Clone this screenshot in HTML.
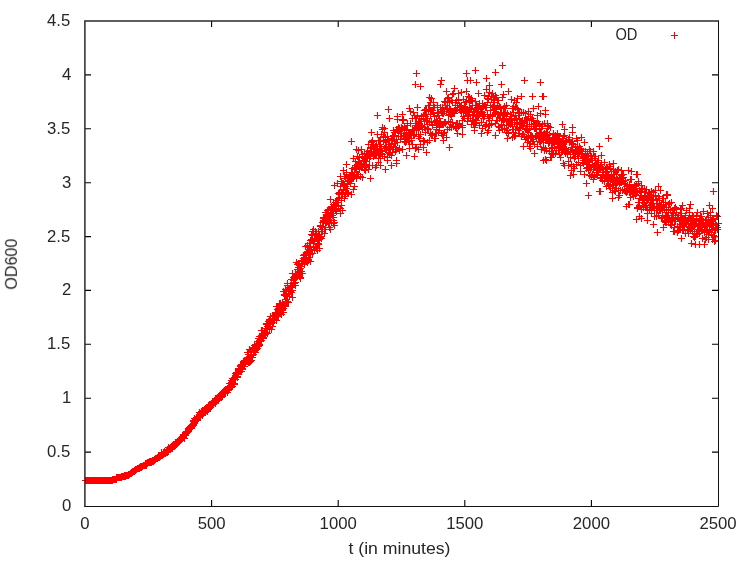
<!DOCTYPE html>
<html><head><meta charset="utf-8"><style>
html,body{margin:0;padding:0;background:#fff;width:750px;height:563px;overflow:hidden}
svg{display:block}
text{font-family:"Liberation Sans",sans-serif;font-size:16px;fill:#262626;will-change:transform}
</style></head><body>
<svg width="750" height="563" viewBox="0 0 750 563">
<rect width="750" height="563" fill="#fff"/>
<path d="M85.0 452.1h6M718.0 452.1h-6M85.0 398.2h6M718.0 398.2h-6M85.0 344.3h6M718.0 344.3h-6M85.0 290.4h6M718.0 290.4h-6M85.0 236.6h6M718.0 236.6h-6M85.0 182.7h6M718.0 182.7h-6M85.0 128.8h6M718.0 128.8h-6M85.0 74.9h6M718.0 74.9h-6M211.6 506.0v-6M211.6 21.0v6M338.2 506.0v-6M338.2 21.0v6M464.8 506.0v-6M464.8 21.0v6M591.4 506.0v-6M591.4 21.0v6" stroke="#000" stroke-width="1.1" fill="none"/>
<path d="M82 480.5h7M85.5 477v7M83 480.5h7M86.5 477v7M84 480.5h7M87.5 477v7M85 480.5h7M88.5 477v7M86 480.5h7M89.5 477v7M87 480.5h7M90.5 477v7M88 480.5h7M91.5 477v7M89 480.5h7M92.5 477v7M90 480.5h7M93.5 477v7M91 480.5h7M94.5 477v7M92 480.5h7M95.5 477v7M93 480.5h7M96.5 477v7M94 480.5h7M97.5 477v7M95 480.5h7M98.5 477v7M96 480.5h7M99.5 477v7M97 480.5h7M100.5 477v7M98 480.5h7M101.5 477v7M99 480.5h7M102.5 477v7M100 480.5h7M103.5 477v7M101 480.5h7M104.5 477v7M102 480.5h7M105.5 477v7M103 480.5h7M106.5 477v7M104 480.5h7M107.5 477v7M105 480.5h7M108.5 477v7M106 480.5h7M109.5 477v7M107 480.5h7M110.5 477v7M108 480.5h7M111.5 477v7M109 480.5h7M112.5 477v7M109 479.5h7M112.5 476v7M110 479.5h7M113.5 476v7M111 479.5h7M114.5 476v7M112 479.5h7M115.5 476v7M113 479.5h7M116.5 476v7M113 477.5h7M116.5 474v7M114 477.5h7M117.5 474v7M115 477.5h7M118.5 474v7M116 477.5h7M119.5 474v7M117 477.5h7M120.5 474v7M118 477.5h7M121.5 474v7M118 476.5h7M121.5 473v7M119 476.5h7M122.5 473v7M120 476.5h7M123.5 473v7M121 475.5h7M124.5 472v7M121 476.5h7M124.5 473v7M122 475.5h7M125.5 472v7M122 476.5h7M125.5 473v7M123 475.5h7M126.5 472v7M124 475.5h7M127.5 472v7M125 475.5h7M128.5 472v7M125 474.5h7M128.5 471v7M126 474.5h7M129.5 471v7M127 473.5h7M130.5 470v7M128 473.5h7M131.5 470v7M128 472.5h7M131.5 469v7M129 472.5h7M132.5 469v7M129 471.5h7M132.5 468v7M130 471.5h7M133.5 468v7M131 471.5h7M134.5 468v7M131 470.5h7M134.5 467v7M132 470.5h7M135.5 467v7M132 469.5h7M135.5 466v7M133 469.5h7M136.5 466v7M134 468.5h7M137.5 465v7M135 468.5h7M138.5 465v7M136 468.5h7M139.5 465v7M136 467.5h7M139.5 464v7M137 467.5h7M140.5 464v7M137 466.5h7M140.5 463v7M138 466.5h7M141.5 463v7M138 467.5h7M141.5 464v7M139 466.5h7M142.5 463v7M140 465.5h7M143.5 462v7M141 465.5h7M144.5 462v7M142 463.5h7M145.5 460v7M142 465.5h7M145.5 462v7M143 465.5h7M146.5 462v7M143 463.5h7M146.5 460v7M144 463.5h7M147.5 460v7M144 462.5h7M147.5 459v7M145 462.5h7M148.5 459v7M146 462.5h7M149.5 459v7M146 461.5h7M149.5 458v7M147 462.5h7M150.5 459v7M147 461.5h7M150.5 458v7M148 462.5h7M151.5 459v7M148 461.5h7M151.5 458v7M149 461.5h7M152.5 458v7M149 460.5h7M152.5 457v7M150 461.5h7M153.5 458v7M150 460.5h7M153.5 457v7M151 460.5h7M154.5 457v7M151 459.5h7M154.5 456v7M152 459.5h7M155.5 456v7M152 458.5h7M155.5 455v7M153 458.5h7M156.5 455v7M154 458.5h7M157.5 455v7M154 457.5h7M157.5 454v7M155 457.5h7M158.5 454v7M155 456.5h7M158.5 453v7M156 456.5h7M159.5 453v7M156 457.5h7M159.5 454v7M156 455.5h7M159.5 452v7M157 456.5h7M160.5 453v7M157 455.5h7M160.5 452v7M158 455.5h7M161.5 452v7M158 454.5h7M161.5 451v7M158 452.5h7M161.5 449v7M159 454.5h7M162.5 451v7M159 455.5h7M162.5 452v7M160 454.5h7M163.5 451v7M160 453.5h7M163.5 450v7M160 452.5h7M163.5 449v7M161 453.5h7M164.5 450v7M161 451.5h7M164.5 448v7M162 453.5h7M165.5 450v7M162 452.5h7M165.5 449v7M163 451.5h7M166.5 448v7M163 452.5h7M166.5 449v7M164 449.5h7M167.5 446v7M164 452.5h7M167.5 449v7M164 451.5h7M167.5 448v7M165 451.5h7M168.5 448v7M165 449.5h7M168.5 446v7M165 447.5h7M168.5 444v7M166 448.5h7M169.5 445v7M167 448.5h7M170.5 445v7M167 447.5h7M170.5 444v7M168 446.5h7M171.5 443v7M168 447.5h7M171.5 444v7M169 447.5h7M172.5 444v7M169 448.5h7M172.5 445v7M169 445.5h7M172.5 442v7M170 445.5h7M173.5 442v7M170 446.5h7M173.5 443v7M170 444.5h7M173.5 441v7M171 444.5h7M174.5 441v7M171 446.5h7M174.5 443v7M172 443.5h7M175.5 440v7M172 442.5h7M175.5 439v7M172 444.5h7M175.5 441v7M173 444.5h7M176.5 441v7M173 442.5h7M176.5 439v7M173 443.5h7M176.5 440v7M174 442.5h7M177.5 439v7M174 443.5h7M177.5 440v7M174 441.5h7M177.5 438v7M175 442.5h7M178.5 439v7M175 441.5h7M178.5 438v7M175 440.5h7M178.5 437v7M176 440.5h7M179.5 437v7M176 439.5h7M179.5 436v7M177 440.5h7M180.5 437v7M177 438.5h7M180.5 435v7M177 439.5h7M180.5 436v7M178 438.5h7M181.5 435v7M178 439.5h7M181.5 436v7M179 438.5h7M182.5 435v7M179 437.5h7M182.5 434v7M180 437.5h7M183.5 434v7M180 434.5h7M183.5 431v7M181 438.5h7M184.5 435v7M181 435.5h7M184.5 432v7M181 434.5h7M184.5 431v7M182 435.5h7M185.5 432v7M182 434.5h7M185.5 431v7M182 432.5h7M185.5 429v7M182 433.5h7M185.5 430v7M183 432.5h7M186.5 429v7M183 433.5h7M186.5 430v7M183 431.5h7M186.5 428v7M184 432.5h7M187.5 429v7M184 431.5h7M187.5 428v7M185 430.5h7M188.5 427v7M185 428.5h7M188.5 425v7M186 428.5h7M189.5 425v7M186 427.5h7M189.5 424v7M187 428.5h7M190.5 425v7M187 427.5h7M190.5 424v7M187 426.5h7M190.5 423v7M188 428.5h7M191.5 425v7M188 426.5h7M191.5 423v7M188 427.5h7M191.5 424v7M188 425.5h7M191.5 422v7M189 426.5h7M192.5 423v7M189 424.5h7M192.5 421v7M190 425.5h7M193.5 422v7M190 421.5h7M193.5 418v7M190 420.5h7M193.5 417v7M190 424.5h7M193.5 421v7M191 418.5h7M194.5 415v7M191 423.5h7M194.5 420v7M191 421.5h7M194.5 418v7M192 421.5h7M195.5 418v7M192 419.5h7M195.5 416v7M192 420.5h7M195.5 417v7M193 419.5h7M196.5 416v7M193 420.5h7M196.5 417v7M193 417.5h7M196.5 414v7M194 420.5h7M197.5 417v7M194 418.5h7M197.5 415v7M194 417.5h7M197.5 414v7M194 416.5h7M197.5 413v7M195 416.5h7M198.5 413v7M195 417.5h7M198.5 414v7M196 416.5h7M199.5 413v7M196 414.5h7M199.5 411v7M196 412.5h7M199.5 409v7M197 414.5h7M200.5 411v7M197 415.5h7M200.5 412v7M197 416.5h7M200.5 413v7M198 414.5h7M201.5 411v7M198 411.5h7M201.5 408v7M198 412.5h7M201.5 409v7M199 412.5h7M202.5 409v7M199 415.5h7M202.5 412v7M199 410.5h7M202.5 407v7M200 410.5h7M203.5 407v7M200 412.5h7M203.5 409v7M201 410.5h7M204.5 407v7M201 412.5h7M204.5 409v7M201 409.5h7M204.5 406v7M202 410.5h7M205.5 407v7M202 409.5h7M205.5 406v7M202 411.5h7M205.5 408v7M203 409.5h7M206.5 406v7M203 407.5h7M206.5 404v7M203 410.5h7M206.5 407v7M204 409.5h7M207.5 406v7M204 411.5h7M207.5 408v7M204 407.5h7M207.5 404v7M205 407.5h7M208.5 404v7M205 409.5h7M208.5 406v7M205 405.5h7M208.5 402v7M206 406.5h7M209.5 403v7M206 407.5h7M209.5 404v7M206 404.5h7M209.5 401v7M207 405.5h7M210.5 402v7M207 406.5h7M210.5 403v7M207 407.5h7M210.5 404v7M207 404.5h7M210.5 401v7M208 403.5h7M211.5 400v7M208 405.5h7M211.5 402v7M208 404.5h7M211.5 401v7M209 405.5h7M212.5 402v7M209 403.5h7M212.5 400v7M210 404.5h7M213.5 401v7M210 402.5h7M213.5 399v7M210 401.5h7M213.5 398v7M211 401.5h7M214.5 398v7M211 402.5h7M214.5 399v7M212 401.5h7M215.5 398v7M212 399.5h7M215.5 396v7M212 403.5h7M215.5 400v7M212 398.5h7M215.5 395v7M213 401.5h7M216.5 398v7M213 400.5h7M216.5 397v7M213 398.5h7M216.5 395v7M214 397.5h7M217.5 394v7M214 400.5h7M217.5 397v7M215 399.5h7M218.5 396v7M215 398.5h7M218.5 395v7M215 396.5h7M218.5 393v7M216 397.5h7M219.5 394v7M216 396.5h7M219.5 393v7M216 398.5h7M219.5 395v7M217 397.5h7M220.5 394v7M217 394.5h7M220.5 391v7M218 394.5h7M221.5 391v7M218 393.5h7M221.5 390v7M218 397.5h7M221.5 394v7M218 396.5h7M221.5 393v7M219 393.5h7M222.5 390v7M219 396.5h7M222.5 393v7M219 394.5h7M222.5 391v7M219 392.5h7M222.5 389v7M220 391.5h7M223.5 388v7M220 392.5h7M223.5 389v7M221 392.5h7M224.5 389v7M221 390.5h7M224.5 387v7M221 391.5h7M224.5 388v7M222 389.5h7M225.5 386v7M222 392.5h7M225.5 389v7M222 391.5h7M225.5 388v7M223 389.5h7M226.5 386v7M223 390.5h7M226.5 387v7M224 392.5h7M227.5 389v7M224 390.5h7M227.5 387v7M224 389.5h7M227.5 386v7M225 390.5h7M228.5 387v7M225 389.5h7M228.5 386v7M225 387.5h7M228.5 384v7M226 388.5h7M229.5 385v7M226 386.5h7M229.5 383v7M226 383.5h7M229.5 380v7M227 383.5h7M230.5 380v7M227 385.5h7M230.5 382v7M227 387.5h7M230.5 384v7M228 386.5h7M231.5 383v7M228 382.5h7M231.5 379v7M228 385.5h7M231.5 382v7M228 380.5h7M231.5 377v7M229 382.5h7M232.5 379v7M229 386.5h7M232.5 383v7M229 380.5h7M232.5 377v7M229 378.5h7M232.5 375v7M230 383.5h7M233.5 380v7M230 378.5h7M233.5 375v7M230 384.5h7M233.5 381v7M230 379.5h7M233.5 376v7M231 383.5h7M234.5 380v7M231 378.5h7M234.5 375v7M231 384.5h7M234.5 381v7M232 377.5h7M235.5 374v7M232 373.5h7M235.5 370v7M232 379.5h7M235.5 376v7M232 375.5h7M235.5 372v7M233 376.5h7M236.5 373v7M233 374.5h7M236.5 371v7M233 372.5h7M236.5 369v7M234 377.5h7M237.5 374v7M234 373.5h7M237.5 370v7M234 376.5h7M237.5 373v7M235 370.5h7M238.5 367v7M235 369.5h7M238.5 366v7M235 374.5h7M238.5 371v7M235 368.5h7M238.5 365v7M236 371.5h7M239.5 368v7M236 368.5h7M239.5 365v7M236 370.5h7M239.5 367v7M237 369.5h7M240.5 366v7M237 365.5h7M240.5 362v7M237 366.5h7M240.5 363v7M238 371.5h7M241.5 368v7M238 364.5h7M241.5 361v7M239 366.5h7M242.5 363v7M239 369.5h7M242.5 366v7M239 368.5h7M242.5 365v7M240 361.5h7M243.5 358v7M240 366.5h7M243.5 363v7M240 364.5h7M243.5 361v7M241 364.5h7M244.5 361v7M241 360.5h7M244.5 357v7M241 366.5h7M244.5 363v7M241 363.5h7M244.5 360v7M242 363.5h7M245.5 360v7M242 361.5h7M245.5 358v7M242 360.5h7M245.5 357v7M242 362.5h7M245.5 359v7M243 360.5h7M246.5 357v7M243 361.5h7M246.5 358v7M243 359.5h7M246.5 356v7M244 361.5h7M247.5 358v7M244 359.5h7M247.5 356v7M244 358.5h7M247.5 355v7M244 352.5h7M247.5 349v7M245 359.5h7M248.5 356v7M245 357.5h7M248.5 354v7M245 354.5h7M248.5 351v7M245 362.5h7M248.5 359v7M246 361.5h7M249.5 358v7M246 362.5h7M249.5 359v7M246 357.5h7M249.5 354v7M246 349.5h7M249.5 346v7M247 355.5h7M250.5 352v7M247 351.5h7M250.5 348v7M247 356.5h7M250.5 353v7M247 361.5h7M250.5 358v7M248 360.5h7M251.5 357v7M248 350.5h7M251.5 347v7M248 352.5h7M251.5 349v7M248 357.5h7M251.5 354v7M249 349.5h7M252.5 346v7M249 357.5h7M252.5 354v7M249 348.5h7M252.5 345v7M249 347.5h7M252.5 344v7M250 354.5h7M253.5 351v7M250 348.5h7M253.5 345v7M251 345.5h7M254.5 342v7M251 352.5h7M254.5 349v7M251 347.5h7M254.5 344v7M251 348.5h7M254.5 345v7M252 349.5h7M255.5 346v7M252 350.5h7M255.5 347v7M252 347.5h7M255.5 344v7M252 352.5h7M255.5 349v7M253 348.5h7M256.5 345v7M253 344.5h7M256.5 341v7M253 349.5h7M256.5 346v7M254 341.5h7M257.5 338v7M254 346.5h7M257.5 343v7M254 348.5h7M257.5 345v7M255 338.5h7M258.5 335v7M255 344.5h7M258.5 341v7M255 346.5h7M258.5 343v7M255 343.5h7M258.5 340v7M256 345.5h7M259.5 342v7M256 344.5h7M259.5 341v7M256 336.5h7M259.5 333v7M256 340.5h7M259.5 337v7M257 341.5h7M260.5 338v7M257 338.5h7M260.5 335v7M257 340.5h7M260.5 337v7M257 336.5h7M260.5 333v7M258 336.5h7M261.5 333v7M258 340.5h7M261.5 337v7M258 337.5h7M261.5 334v7M258 330.5h7M261.5 327v7M259 336.5h7M262.5 333v7M259 337.5h7M262.5 334v7M259 330.5h7M262.5 327v7M260 338.5h7M263.5 335v7M260 333.5h7M263.5 330v7M260 337.5h7M263.5 334v7M261 335.5h7M264.5 332v7M261 332.5h7M264.5 329v7M261 333.5h7M264.5 330v7M262 334.5h7M265.5 331v7M262 328.5h7M265.5 325v7M262 333.5h7M265.5 330v7M263 332.5h7M266.5 329v7M263 323.5h7M266.5 320v7M263 324.5h7M266.5 321v7M264 324.5h7M267.5 321v7M264 329.5h7M267.5 326v7M264 333.5h7M267.5 330v7M264 326.5h7M267.5 323v7M265 324.5h7M268.5 321v7M265 323.5h7M268.5 320v7M265 326.5h7M268.5 323v7M265 321.5h7M268.5 318v7M266 320.5h7M269.5 317v7M266 329.5h7M269.5 326v7M266 319.5h7M269.5 316v7M266 323.5h7M269.5 320v7M267 326.5h7M270.5 323v7M267 324.5h7M270.5 321v7M267 316.5h7M270.5 313v7M267 319.5h7M270.5 316v7M268 329.5h7M271.5 326v7M268 321.5h7M271.5 318v7M269 322.5h7M272.5 319v7M269 326.5h7M272.5 323v7M269 316.5h7M272.5 313v7M270 320.5h7M273.5 317v7M270 322.5h7M273.5 319v7M270 315.5h7M273.5 312v7M271 316.5h7M274.5 313v7M271 319.5h7M274.5 316v7M271 320.5h7M274.5 317v7M271 318.5h7M274.5 315v7M272 312.5h7M275.5 309v7M272 315.5h7M275.5 312v7M272 314.5h7M275.5 311v7M272 316.5h7M275.5 313v7M273 315.5h7M276.5 312v7M273 313.5h7M276.5 310v7M273 320.5h7M276.5 317v7M273 306.5h7M276.5 303v7M274 315.5h7M277.5 312v7M274 314.5h7M277.5 311v7M274 306.5h7M277.5 303v7M274 309.5h7M277.5 306v7M275 310.5h7M278.5 307v7M275 313.5h7M278.5 310v7M275 316.5h7M278.5 313v7M275 308.5h7M278.5 305v7M276 304.5h7M279.5 301v7M276 313.5h7M279.5 310v7M276 303.5h7M279.5 300v7M277 310.5h7M280.5 307v7M277 305.5h7M280.5 302v7M277 307.5h7M280.5 304v7M277 303.5h7M280.5 300v7M278 309.5h7M281.5 306v7M278 310.5h7M281.5 307v7M278 314.5h7M281.5 311v7M279 309.5h7M282.5 306v7M279 310.5h7M282.5 307v7M279 302.5h7M282.5 299v7M280 306.5h7M283.5 303v7M280 312.5h7M283.5 309v7M280 291.5h7M283.5 288v7M280 308.5h7M283.5 305v7M281 306.5h7M284.5 303v7M281 295.5h7M284.5 292v7M281 294.5h7M284.5 291v7M281 305.5h7M284.5 302v7M282 306.5h7M285.5 303v7M282 303.5h7M285.5 300v7M282 289.5h7M285.5 286v7M282 299.5h7M285.5 296v7M283 301.5h7M286.5 298v7M283 296.5h7M286.5 293v7M283 290.5h7M286.5 287v7M283 302.5h7M286.5 299v7M284 296.5h7M287.5 293v7M284 301.5h7M287.5 298v7M284 283.5h7M287.5 280v7M284 285.5h7M287.5 282v7M285 289.5h7M288.5 286v7M285 293.5h7M288.5 290v7M285 302.5h7M288.5 299v7M286 290.5h7M289.5 287v7M286 296.5h7M289.5 293v7M286 293.5h7M289.5 290v7M287 291.5h7M290.5 288v7M287 286.5h7M290.5 283v7M287 285.5h7M290.5 282v7M287 287.5h7M290.5 284v7M288 292.5h7M291.5 289v7M288 283.5h7M291.5 280v7M288 287.5h7M291.5 284v7M288 279.5h7M291.5 276v7M289 290.5h7M292.5 287v7M289 297.5h7M292.5 294v7M289 287.5h7M292.5 284v7M289 273.5h7M292.5 270v7M290 280.5h7M293.5 277v7M290 283.5h7M293.5 280v7M290 277.5h7M293.5 274v7M290 279.5h7M293.5 276v7M291 279.5h7M294.5 276v7M291 283.5h7M294.5 280v7M291 278.5h7M294.5 275v7M292 282.5h7M295.5 279v7M292 285.5h7M295.5 282v7M292 277.5h7M295.5 274v7M292 273.5h7M295.5 270v7M293 274.5h7M296.5 271v7M293 262.5h7M296.5 259v7M294 274.5h7M297.5 271v7M294 269.5h7M297.5 266v7M294 264.5h7M297.5 261v7M294 273.5h7M297.5 270v7M295 272.5h7M298.5 269v7M295 267.5h7M298.5 264v7M295 263.5h7M298.5 260v7M295 269.5h7M298.5 266v7M296 269.5h7M299.5 266v7M296 276.5h7M299.5 273v7M296 263.5h7M299.5 260v7M297 271.5h7M300.5 268v7M297 278.5h7M300.5 275v7M297 268.5h7M300.5 265v7M297 277.5h7M300.5 274v7M298 273.5h7M301.5 270v7M298 266.5h7M301.5 263v7M298 271.5h7M301.5 268v7M298 260.5h7M301.5 257v7M299 273.5h7M302.5 270v7M299 263.5h7M302.5 260v7M299 261.5h7M302.5 258v7M300 255.5h7M303.5 252v7M300 258.5h7M303.5 255v7M300 261.5h7M303.5 258v7M301 262.5h7M304.5 259v7M301 254.5h7M304.5 251v7M301 264.5h7M304.5 261v7M301 257.5h7M304.5 254v7M302 260.5h7M305.5 257v7M302 258.5h7M305.5 255v7M302 261.5h7M305.5 258v7M302 246.5h7M305.5 243v7M303 261.5h7M306.5 258v7M303 255.5h7M306.5 252v7M303 254.5h7M306.5 251v7M303 252.5h7M306.5 249v7M304 252.5h7M307.5 249v7M304 245.5h7M307.5 242v7M304 262.5h7M307.5 259v7M305 253.5h7M308.5 250v7M305 260.5h7M308.5 257v7M305 251.5h7M308.5 248v7M305 259.5h7M308.5 256v7M306 257.5h7M309.5 254v7M306 251.5h7M309.5 248v7M306 243.5h7M309.5 240v7M306 247.5h7M309.5 244v7M307 247.5h7M310.5 244v7M307 240.5h7M310.5 237v7M307 254.5h7M310.5 251v7M307 261.5h7M310.5 258v7M308 250.5h7M311.5 247v7M308 249.5h7M311.5 246v7M308 239.5h7M311.5 236v7M308 234.5h7M311.5 231v7M309 253.5h7M312.5 250v7M309 231.5h7M312.5 228v7M309 235.5h7M312.5 232v7M309 239.5h7M312.5 236v7M310 241.5h7M313.5 238v7M310 229.5h7M313.5 226v7M310 243.5h7M313.5 240v7M310 246.5h7M313.5 243v7M311 241.5h7M314.5 238v7M311 250.5h7M314.5 247v7M311 238.5h7M314.5 235v7M312 238.5h7M315.5 235v7M312 246.5h7M315.5 243v7M312 231.5h7M315.5 228v7M313 246.5h7M316.5 243v7M313 233.5h7M316.5 230v7M313 248.5h7M316.5 245v7M313 235.5h7M316.5 232v7M314 243.5h7M317.5 240v7M314 236.5h7M317.5 233v7M314 240.5h7M317.5 237v7M314 250.5h7M317.5 247v7M315 243.5h7M318.5 240v7M315 235.5h7M318.5 232v7M315 231.5h7M318.5 228v7M315 244.5h7M318.5 241v7M316 248.5h7M319.5 245v7M316 239.5h7M319.5 236v7M316 234.5h7M319.5 231v7M316 236.5h7M319.5 233v7M317 237.5h7M320.5 234v7M317 226.5h7M320.5 223v7M317 225.5h7M320.5 222v7M318 236.5h7M321.5 233v7M318 229.5h7M321.5 226v7M318 231.5h7M321.5 228v7M318 238.5h7M321.5 235v7M319 222.5h7M322.5 219v7M319 227.5h7M322.5 224v7M319 231.5h7M322.5 228v7M320 218.5h7M323.5 215v7M320 221.5h7M323.5 218v7M320 220.5h7M323.5 217v7M320 217.5h7M323.5 214v7M321 220.5h7M324.5 217v7M321 233.5h7M324.5 230v7M321 229.5h7M324.5 226v7M321 217.5h7M324.5 214v7M322 229.5h7M325.5 226v7M322 222.5h7M325.5 219v7M322 220.5h7M325.5 217v7M322 212.5h7M325.5 209v7M323 212.5h7M326.5 209v7M323 215.5h7M326.5 212v7M323 222.5h7M326.5 219v7M324 217.5h7M327.5 214v7M324 221.5h7M327.5 218v7M324 210.5h7M327.5 207v7M324 216.5h7M327.5 213v7M325 223.5h7M328.5 220v7M325 209.5h7M328.5 206v7M325 219.5h7M328.5 216v7M325 213.5h7M328.5 210v7M326 227.5h7M329.5 224v7M326 217.5h7M329.5 214v7M326 222.5h7M329.5 219v7M327 229.5h7M330.5 226v7M327 199.5h7M330.5 196v7M327 216.5h7M330.5 213v7M327 212.5h7M330.5 209v7M328 206.5h7M331.5 203v7M328 213.5h7M331.5 210v7M328 207.5h7M331.5 204v7M328 222.5h7M331.5 219v7M329 210.5h7M332.5 207v7M329 215.5h7M332.5 212v7M329 208.5h7M332.5 205v7M329 209.5h7M332.5 206v7M330 220.5h7M333.5 217v7M330 223.5h7M333.5 220v7M330 217.5h7M333.5 214v7M330 204.5h7M333.5 201v7M331 206.5h7M334.5 203v7M331 205.5h7M334.5 202v7M331 222.5h7M334.5 219v7M331 225.5h7M334.5 222v7M332 210.5h7M335.5 207v7M332 208.5h7M335.5 205v7M332 209.5h7M335.5 206v7M332 202.5h7M335.5 199v7M333 205.5h7M336.5 202v7M333 211.5h7M336.5 208v7M333 209.5h7M336.5 206v7M333 200.5h7M336.5 197v7M334 200.5h7M337.5 197v7M334 202.5h7M337.5 199v7M334 183.5h7M337.5 180v7M335 198.5h7M338.5 195v7M335 206.5h7M338.5 203v7M335 200.5h7M338.5 197v7M335 193.5h7M338.5 190v7M336 192.5h7M339.5 189v7M336 197.5h7M339.5 194v7M336 194.5h7M339.5 191v7M337 208.5h7M340.5 205v7M337 213.5h7M340.5 210v7M337 176.5h7M340.5 173v7M337 186.5h7M340.5 183v7M338 193.5h7M341.5 190v7M338 205.5h7M341.5 202v7M338 200.5h7M341.5 197v7M338 181.5h7M341.5 178v7M339 210.5h7M342.5 207v7M339 193.5h7M342.5 190v7M339 183.5h7M342.5 180v7M340 189.5h7M343.5 186v7M340 183.5h7M343.5 180v7M340 190.5h7M343.5 187v7M340 170.5h7M343.5 167v7M341 196.5h7M344.5 193v7M341 198.5h7M344.5 195v7M341 185.5h7M344.5 182v7M341 176.5h7M344.5 173v7M342 186.5h7M345.5 183v7M342 178.5h7M345.5 175v7M342 190.5h7M345.5 187v7M342 194.5h7M345.5 191v7M343 174.5h7M346.5 171v7M343 164.5h7M346.5 161v7M343 172.5h7M346.5 169v7M343 188.5h7M346.5 185v7M344 192.5h7M347.5 189v7M344 184.5h7M347.5 181v7M344 178.5h7M347.5 175v7M345 178.5h7M348.5 175v7M345 193.5h7M348.5 190v7M345 180.5h7M348.5 177v7M345 181.5h7M348.5 178v7M346 180.5h7M349.5 177v7M346 181.5h7M349.5 178v7M346 175.5h7M349.5 172v7M347 178.5h7M350.5 175v7M347 177.5h7M350.5 174v7M347 183.5h7M350.5 180v7M347 175.5h7M350.5 172v7M348 179.5h7M351.5 176v7M348 194.5h7M351.5 191v7M348 172.5h7M351.5 169v7M349 168.5h7M352.5 165v7M349 177.5h7M352.5 174v7M349 176.5h7M352.5 173v7M349 174.5h7M352.5 171v7M350 175.5h7M353.5 172v7M350 178.5h7M353.5 175v7M350 189.5h7M353.5 186v7M350 158.5h7M353.5 155v7M351 186.5h7M354.5 183v7M351 176.5h7M354.5 173v7M351 167.5h7M354.5 164v7M351 169.5h7M354.5 166v7M352 167.5h7M355.5 164v7M352 165.5h7M355.5 162v7M352 161.5h7M355.5 158v7M352 168.5h7M355.5 165v7M353 149.5h7M356.5 146v7M353 178.5h7M356.5 175v7M353 167.5h7M356.5 164v7M353 172.5h7M356.5 169v7M354 174.5h7M357.5 171v7M354 166.5h7M357.5 163v7M354 156.5h7M357.5 153v7M355 174.5h7M358.5 171v7M355 161.5h7M358.5 158v7M355 162.5h7M358.5 159v7M355 150.5h7M358.5 147v7M356 157.5h7M359.5 154v7M356 164.5h7M359.5 161v7M356 169.5h7M359.5 166v7M356 163.5h7M359.5 160v7M357 166.5h7M360.5 163v7M357 176.5h7M360.5 173v7M357 164.5h7M360.5 161v7M357 165.5h7M360.5 162v7M358 165.5h7M361.5 162v7M358 167.5h7M361.5 164v7M358 149.5h7M361.5 146v7M359 156.5h7M362.5 153v7M359 154.5h7M362.5 151v7M359 167.5h7M362.5 164v7M359 177.5h7M362.5 174v7M360 164.5h7M363.5 161v7M360 160.5h7M363.5 157v7M360 163.5h7M363.5 160v7M361 153.5h7M364.5 150v7M361 158.5h7M364.5 155v7M361 169.5h7M364.5 166v7M361 164.5h7M364.5 161v7M362 166.5h7M365.5 163v7M362 158.5h7M365.5 155v7M362 170.5h7M365.5 167v7M362 161.5h7M365.5 158v7M363 153.5h7M366.5 150v7M363 158.5h7M366.5 155v7M363 167.5h7M366.5 164v7M363 164.5h7M366.5 161v7M364 157.5h7M367.5 154v7M364 154.5h7M367.5 151v7M364 151.5h7M367.5 148v7M364 158.5h7M367.5 155v7M365 169.5h7M368.5 166v7M365 144.5h7M368.5 141v7M365 154.5h7M368.5 151v7M365 153.5h7M368.5 150v7M366 154.5h7M369.5 151v7M366 165.5h7M369.5 162v7M366 158.5h7M369.5 155v7M366 153.5h7M369.5 150v7M367 147.5h7M370.5 144v7M367 154.5h7M370.5 151v7M367 178.5h7M370.5 175v7M367 156.5h7M370.5 153v7M368 151.5h7M371.5 148v7M368 142.5h7M371.5 139v7M368 148.5h7M371.5 145v7M368 132.5h7M371.5 129v7M369 140.5h7M372.5 137v7M369 141.5h7M372.5 138v7M369 144.5h7M372.5 141v7M369 165.5h7M372.5 162v7M370 144.5h7M373.5 141v7M370 147.5h7M373.5 144v7M370 156.5h7M373.5 153v7M370 146.5h7M373.5 143v7M371 148.5h7M374.5 145v7M371 155.5h7M374.5 152v7M371 152.5h7M374.5 149v7M371 153.5h7M374.5 150v7M372 149.5h7M375.5 146v7M372 154.5h7M375.5 151v7M372 146.5h7M375.5 143v7M372 167.5h7M375.5 164v7M373 152.5h7M376.5 149v7M373 165.5h7M376.5 162v7M373 154.5h7M376.5 151v7M373 144.5h7M376.5 141v7M374 149.5h7M377.5 146v7M374 150.5h7M377.5 147v7M374 148.5h7M377.5 145v7M374 134.5h7M377.5 131v7M375 158.5h7M378.5 155v7M375 140.5h7M378.5 137v7M375 162.5h7M378.5 159v7M375 152.5h7M378.5 149v7M376 144.5h7M379.5 141v7M376 155.5h7M379.5 152v7M376 146.5h7M379.5 143v7M376 140.5h7M379.5 137v7M377 158.5h7M380.5 155v7M377 148.5h7M380.5 145v7M377 140.5h7M380.5 137v7M377 165.5h7M380.5 162v7M378 148.5h7M381.5 145v7M378 153.5h7M381.5 150v7M378 134.5h7M381.5 131v7M379 154.5h7M382.5 151v7M379 129.5h7M382.5 126v7M379 151.5h7M382.5 148v7M379 127.5h7M382.5 124v7M380 140.5h7M383.5 137v7M380 141.5h7M383.5 138v7M380 137.5h7M383.5 134v7M380 136.5h7M383.5 133v7M381 132.5h7M384.5 129v7M381 128.5h7M384.5 125v7M381 148.5h7M384.5 145v7M381 156.5h7M384.5 153v7M382 169.5h7M385.5 166v7M382 148.5h7M385.5 145v7M382 137.5h7M385.5 134v7M382 140.5h7M385.5 137v7M383 142.5h7M386.5 139v7M383 147.5h7M386.5 144v7M383 150.5h7M386.5 147v7M383 146.5h7M386.5 143v7M384 139.5h7M387.5 136v7M384 160.5h7M387.5 157v7M384 136.5h7M387.5 133v7M384 157.5h7M387.5 154v7M385 144.5h7M388.5 141v7M385 149.5h7M388.5 146v7M385 146.5h7M388.5 143v7M385 152.5h7M388.5 149v7M386 153.5h7M389.5 150v7M386 144.5h7M389.5 141v7M386 152.5h7M389.5 149v7M386 118.5h7M389.5 115v7M387 146.5h7M390.5 143v7M387 148.5h7M390.5 145v7M387 147.5h7M390.5 144v7M387 152.5h7M390.5 149v7M388 165.5h7M391.5 162v7M388 143.5h7M391.5 140v7M388 138.5h7M391.5 135v7M388 155.5h7M391.5 152v7M389 140.5h7M392.5 137v7M389 152.5h7M392.5 149v7M389 136.5h7M392.5 133v7M390 135.5h7M393.5 132v7M390 147.5h7M393.5 144v7M390 130.5h7M393.5 127v7M391 143.5h7M394.5 140v7M391 135.5h7M394.5 132v7M391 132.5h7M394.5 129v7M391 141.5h7M394.5 138v7M392 151.5h7M395.5 148v7M392 132.5h7M395.5 129v7M392 149.5h7M395.5 146v7M392 147.5h7M395.5 144v7M393 149.5h7M396.5 146v7M393 129.5h7M396.5 126v7M393 139.5h7M396.5 136v7M393 160.5h7M396.5 157v7M394 129.5h7M397.5 126v7M394 116.5h7M397.5 113v7M394 119.5h7M397.5 116v7M394 142.5h7M397.5 139v7M395 136.5h7M398.5 133v7M395 132.5h7M398.5 129v7M395 127.5h7M398.5 124v7M396 148.5h7M399.5 145v7M396 128.5h7M399.5 125v7M396 129.5h7M399.5 126v7M396 150.5h7M399.5 147v7M397 139.5h7M400.5 136v7M397 133.5h7M400.5 130v7M397 136.5h7M400.5 133v7M397 130.5h7M400.5 127v7M398 127.5h7M401.5 124v7M398 129.5h7M401.5 126v7M398 136.5h7M401.5 133v7M399 149.5h7M402.5 146v7M399 128.5h7M402.5 125v7M399 120.5h7M402.5 117v7M399 114.5h7M402.5 111v7M400 135.5h7M403.5 132v7M400 120.5h7M403.5 117v7M400 119.5h7M403.5 116v7M401 130.5h7M404.5 127v7M401 126.5h7M404.5 123v7M401 141.5h7M404.5 138v7M401 127.5h7M404.5 124v7M402 142.5h7M405.5 139v7M402 135.5h7M405.5 132v7M402 138.5h7M405.5 135v7M403 155.5h7M406.5 152v7M403 141.5h7M406.5 138v7M403 129.5h7M406.5 126v7M403 134.5h7M406.5 131v7M404 137.5h7M407.5 134v7M404 125.5h7M407.5 122v7M404 123.5h7M407.5 120v7M405 140.5h7M408.5 137v7M405 132.5h7M408.5 129v7M405 135.5h7M408.5 132v7M405 141.5h7M408.5 138v7M406 148.5h7M409.5 145v7M406 133.5h7M409.5 130v7M406 140.5h7M409.5 137v7M406 108.5h7M409.5 105v7M407 132.5h7M410.5 129v7M407 134.5h7M410.5 131v7M407 123.5h7M410.5 120v7M407 111.5h7M410.5 108v7M408 140.5h7M411.5 137v7M408 132.5h7M411.5 129v7M408 138.5h7M411.5 135v7M409 130.5h7M412.5 127v7M409 118.5h7M412.5 115v7M409 144.5h7M412.5 141v7M409 129.5h7M412.5 126v7M410 112.5h7M413.5 109v7M410 135.5h7M413.5 132v7M410 130.5h7M413.5 127v7M411 156.5h7M414.5 153v7M411 129.5h7M414.5 126v7M411 115.5h7M414.5 112v7M411 134.5h7M414.5 131v7M412 148.5h7M415.5 145v7M412 125.5h7M415.5 122v7M412 127.5h7M415.5 124v7M412 118.5h7M415.5 115v7M413 118.5h7M416.5 115v7M413 130.5h7M416.5 127v7M413 123.5h7M416.5 120v7M413 147.5h7M416.5 144v7M414 107.5h7M417.5 104v7M414 125.5h7M417.5 122v7M414 115.5h7M417.5 112v7M415 129.5h7M418.5 126v7M415 123.5h7M418.5 120v7M415 136.5h7M418.5 133v7M415 149.5h7M418.5 146v7M416 127.5h7M419.5 124v7M416 124.5h7M419.5 121v7M416 138.5h7M419.5 135v7M416 118.5h7M419.5 115v7M417 125.5h7M420.5 122v7M417 121.5h7M420.5 118v7M417 134.5h7M420.5 131v7M417 144.5h7M420.5 141v7M418 116.5h7M421.5 113v7M418 119.5h7M421.5 116v7M418 126.5h7M421.5 123v7M419 129.5h7M422.5 126v7M419 127.5h7M422.5 124v7M419 126.5h7M422.5 123v7M420 147.5h7M423.5 144v7M420 115.5h7M423.5 112v7M420 140.5h7M423.5 137v7M420 118.5h7M423.5 115v7M421 127.5h7M424.5 124v7M421 121.5h7M424.5 118v7M421 141.5h7M424.5 138v7M421 110.5h7M424.5 107v7M422 116.5h7M425.5 113v7M422 114.5h7M425.5 111v7M422 109.5h7M425.5 106v7M422 132.5h7M425.5 129v7M423 152.5h7M426.5 149v7M423 120.5h7M426.5 117v7M423 109.5h7M426.5 106v7M423 110.5h7M426.5 107v7M424 128.5h7M427.5 125v7M424 124.5h7M427.5 121v7M424 118.5h7M427.5 115v7M424 142.5h7M427.5 139v7M425 129.5h7M428.5 126v7M425 105.5h7M428.5 102v7M425 110.5h7M428.5 107v7M426 105.5h7M429.5 102v7M426 122.5h7M429.5 119v7M426 140.5h7M429.5 137v7M426 97.5h7M429.5 94v7M427 133.5h7M430.5 130v7M427 114.5h7M430.5 111v7M427 102.5h7M430.5 99v7M427 111.5h7M430.5 108v7M428 98.5h7M431.5 95v7M428 110.5h7M431.5 107v7M428 121.5h7M431.5 118v7M428 135.5h7M431.5 132v7M429 134.5h7M432.5 131v7M429 125.5h7M432.5 122v7M429 110.5h7M432.5 107v7M429 124.5h7M432.5 121v7M430 113.5h7M433.5 110v7M430 102.5h7M433.5 99v7M430 107.5h7M433.5 104v7M430 105.5h7M433.5 102v7M431 107.5h7M434.5 104v7M431 138.5h7M434.5 135v7M431 116.5h7M434.5 113v7M432 122.5h7M435.5 119v7M432 133.5h7M435.5 130v7M432 138.5h7M435.5 135v7M433 120.5h7M436.5 117v7M433 133.5h7M436.5 130v7M433 129.5h7M436.5 126v7M433 127.5h7M436.5 124v7M434 112.5h7M437.5 109v7M434 123.5h7M437.5 120v7M434 121.5h7M437.5 118v7M434 105.5h7M437.5 102v7M435 123.5h7M438.5 120v7M435 112.5h7M438.5 109v7M435 132.5h7M438.5 129v7M435 115.5h7M438.5 112v7M436 118.5h7M439.5 115v7M436 124.5h7M439.5 121v7M436 130.5h7M439.5 127v7M437 122.5h7M440.5 119v7M437 124.5h7M440.5 121v7M437 107.5h7M440.5 104v7M437 109.5h7M440.5 106v7M438 133.5h7M441.5 130v7M438 111.5h7M441.5 108v7M438 124.5h7M441.5 121v7M439 113.5h7M442.5 110v7M439 124.5h7M442.5 121v7M439 135.5h7M442.5 132v7M439 107.5h7M442.5 104v7M440 113.5h7M443.5 110v7M440 133.5h7M443.5 130v7M440 140.5h7M443.5 137v7M440 124.5h7M443.5 121v7M441 132.5h7M444.5 129v7M441 122.5h7M444.5 119v7M441 111.5h7M444.5 108v7M441 101.5h7M444.5 98v7M442 122.5h7M445.5 119v7M442 102.5h7M445.5 99v7M442 105.5h7M445.5 102v7M442 123.5h7M445.5 120v7M443 137.5h7M446.5 134v7M443 108.5h7M446.5 105v7M443 111.5h7M446.5 108v7M443 91.5h7M446.5 88v7M444 101.5h7M447.5 98v7M444 109.5h7M447.5 106v7M444 98.5h7M447.5 95v7M444 129.5h7M447.5 126v7M445 115.5h7M448.5 112v7M445 121.5h7M448.5 118v7M445 97.5h7M448.5 94v7M445 111.5h7M448.5 108v7M446 147.5h7M449.5 144v7M446 101.5h7M449.5 98v7M446 127.5h7M449.5 124v7M446 108.5h7M449.5 105v7M447 122.5h7M450.5 119v7M447 114.5h7M450.5 111v7M447 109.5h7M450.5 106v7M448 127.5h7M451.5 124v7M448 100.5h7M451.5 97v7M448 112.5h7M451.5 109v7M448 116.5h7M451.5 113v7M449 102.5h7M452.5 99v7M449 122.5h7M452.5 119v7M449 94.5h7M452.5 91v7M449 113.5h7M452.5 110v7M450 111.5h7M453.5 108v7M450 112.5h7M453.5 109v7M450 126.5h7M453.5 123v7M450 93.5h7M453.5 90v7M451 113.5h7M454.5 110v7M451 111.5h7M454.5 108v7M451 88.5h7M454.5 85v7M451 110.5h7M454.5 107v7M452 127.5h7M455.5 124v7M452 109.5h7M455.5 106v7M452 105.5h7M455.5 102v7M452 102.5h7M455.5 99v7M453 110.5h7M456.5 107v7M453 128.5h7M456.5 125v7M453 100.5h7M456.5 97v7M453 123.5h7M456.5 120v7M454 107.5h7M457.5 104v7M454 133.5h7M457.5 130v7M454 105.5h7M457.5 102v7M454 123.5h7M457.5 120v7M455 100.5h7M458.5 97v7M455 93.5h7M458.5 90v7M455 99.5h7M458.5 96v7M455 126.5h7M458.5 123v7M456 124.5h7M459.5 121v7M456 123.5h7M459.5 120v7M456 105.5h7M459.5 102v7M456 109.5h7M459.5 106v7M457 110.5h7M460.5 107v7M457 109.5h7M460.5 106v7M457 106.5h7M460.5 103v7M458 105.5h7M461.5 102v7M458 92.5h7M461.5 89v7M458 112.5h7M461.5 109v7M458 109.5h7M461.5 106v7M459 134.5h7M462.5 131v7M459 127.5h7M462.5 124v7M459 120.5h7M462.5 117v7M459 125.5h7M462.5 122v7M460 109.5h7M463.5 106v7M460 99.5h7M463.5 96v7M460 116.5h7M463.5 113v7M461 118.5h7M464.5 115v7M461 110.5h7M464.5 107v7M461 106.5h7M464.5 103v7M462 108.5h7M465.5 105v7M462 107.5h7M465.5 104v7M462 102.5h7M465.5 99v7M462 111.5h7M465.5 108v7M463 109.5h7M466.5 106v7M463 91.5h7M466.5 88v7M463 111.5h7M466.5 108v7M463 101.5h7M466.5 98v7M464 110.5h7M467.5 107v7M464 116.5h7M467.5 113v7M464 121.5h7M467.5 118v7M465 110.5h7M468.5 107v7M465 118.5h7M468.5 115v7M465 115.5h7M468.5 112v7M465 96.5h7M468.5 93v7M466 112.5h7M469.5 109v7M466 97.5h7M469.5 94v7M466 107.5h7M469.5 104v7M466 100.5h7M469.5 97v7M467 118.5h7M470.5 115v7M467 109.5h7M470.5 106v7M467 80.5h7M470.5 77v7M467 100.5h7M470.5 97v7M468 98.5h7M471.5 95v7M468 108.5h7M471.5 105v7M468 100.5h7M471.5 97v7M468 124.5h7M471.5 121v7M469 120.5h7M472.5 117v7M469 105.5h7M472.5 102v7M469 100.5h7M472.5 97v7M469 115.5h7M472.5 112v7M470 112.5h7M473.5 109v7M470 114.5h7M473.5 111v7M470 124.5h7M473.5 121v7M471 127.5h7M474.5 124v7M471 111.5h7M474.5 108v7M471 130.5h7M474.5 127v7M471 122.5h7M474.5 119v7M472 119.5h7M475.5 116v7M472 123.5h7M475.5 120v7M472 108.5h7M475.5 105v7M472 101.5h7M475.5 98v7M473 111.5h7M476.5 108v7M473 122.5h7M476.5 119v7M473 120.5h7M476.5 117v7M473 105.5h7M476.5 102v7M474 107.5h7M477.5 104v7M474 116.5h7M477.5 113v7M474 109.5h7M477.5 106v7M475 109.5h7M478.5 106v7M475 93.5h7M478.5 90v7M475 115.5h7M478.5 112v7M475 106.5h7M478.5 103v7M476 106.5h7M479.5 103v7M476 114.5h7M479.5 111v7M476 125.5h7M479.5 122v7M476 103.5h7M479.5 100v7M477 108.5h7M480.5 105v7M477 111.5h7M480.5 108v7M478 111.5h7M481.5 108v7M478 122.5h7M481.5 119v7M478 108.5h7M481.5 105v7M478 133.5h7M481.5 130v7M479 112.5h7M482.5 109v7M479 128.5h7M482.5 125v7M479 115.5h7M482.5 112v7M479 103.5h7M482.5 100v7M480 114.5h7M483.5 111v7M480 118.5h7M483.5 115v7M480 106.5h7M483.5 103v7M481 116.5h7M484.5 113v7M481 95.5h7M484.5 92v7M481 105.5h7M484.5 102v7M482 107.5h7M485.5 104v7M482 125.5h7M485.5 122v7M482 105.5h7M485.5 102v7M482 126.5h7M485.5 123v7M483 107.5h7M486.5 104v7M483 124.5h7M486.5 121v7M483 89.5h7M486.5 86v7M483 78.5h7M486.5 75v7M484 98.5h7M487.5 95v7M484 102.5h7M487.5 99v7M484 132.5h7M487.5 129v7M484 114.5h7M487.5 111v7M485 96.5h7M488.5 93v7M485 99.5h7M488.5 96v7M485 130.5h7M488.5 127v7M485 118.5h7M488.5 115v7M486 125.5h7M489.5 122v7M486 124.5h7M489.5 121v7M486 120.5h7M489.5 117v7M486 92.5h7M489.5 89v7M487 110.5h7M490.5 107v7M487 114.5h7M490.5 111v7M487 115.5h7M490.5 112v7M487 105.5h7M490.5 102v7M488 99.5h7M491.5 96v7M488 123.5h7M491.5 120v7M488 96.5h7M491.5 93v7M488 124.5h7M491.5 121v7M489 115.5h7M492.5 112v7M489 107.5h7M492.5 104v7M489 93.5h7M492.5 90v7M489 116.5h7M492.5 113v7M490 109.5h7M493.5 106v7M490 97.5h7M493.5 94v7M490 106.5h7M493.5 103v7M490 99.5h7M493.5 96v7M491 100.5h7M494.5 97v7M491 109.5h7M494.5 106v7M491 106.5h7M494.5 103v7M491 102.5h7M494.5 99v7M492 113.5h7M495.5 110v7M492 95.5h7M495.5 92v7M492 135.5h7M495.5 132v7M492 123.5h7M495.5 120v7M493 97.5h7M496.5 94v7M493 108.5h7M496.5 105v7M493 120.5h7M496.5 117v7M493 109.5h7M496.5 106v7M494 100.5h7M497.5 97v7M494 120.5h7M497.5 117v7M494 105.5h7M497.5 102v7M494 114.5h7M497.5 111v7M495 114.5h7M498.5 111v7M495 100.5h7M498.5 97v7M495 126.5h7M498.5 123v7M496 118.5h7M499.5 115v7M496 106.5h7M499.5 103v7M496 127.5h7M499.5 124v7M496 130.5h7M499.5 127v7M497 107.5h7M500.5 104v7M497 113.5h7M500.5 110v7M497 115.5h7M500.5 112v7M498 112.5h7M501.5 109v7M498 124.5h7M501.5 121v7M498 84.5h7M501.5 81v7M498 125.5h7M501.5 122v7M499 119.5h7M502.5 116v7M499 129.5h7M502.5 126v7M499 97.5h7M502.5 94v7M500 114.5h7M503.5 111v7M500 108.5h7M503.5 105v7M500 120.5h7M503.5 117v7M500 94.5h7M503.5 91v7M501 112.5h7M504.5 109v7M501 128.5h7M504.5 125v7M501 106.5h7M504.5 103v7M501 119.5h7M504.5 116v7M502 108.5h7M505.5 105v7M502 113.5h7M505.5 110v7M502 112.5h7M505.5 109v7M503 125.5h7M506.5 122v7M503 132.5h7M506.5 129v7M503 105.5h7M506.5 102v7M503 118.5h7M506.5 115v7M504 113.5h7M507.5 110v7M504 121.5h7M507.5 118v7M504 138.5h7M507.5 135v7M504 130.5h7M507.5 127v7M505 91.5h7M508.5 88v7M505 125.5h7M508.5 122v7M505 121.5h7M508.5 118v7M505 133.5h7M508.5 130v7M506 123.5h7M509.5 120v7M506 121.5h7M509.5 118v7M506 120.5h7M509.5 117v7M506 119.5h7M509.5 116v7M507 124.5h7M510.5 121v7M507 118.5h7M510.5 115v7M507 114.5h7M510.5 111v7M508 120.5h7M511.5 117v7M508 99.5h7M511.5 96v7M508 116.5h7M511.5 113v7M509 126.5h7M512.5 123v7M509 108.5h7M512.5 105v7M509 129.5h7M512.5 126v7M509 137.5h7M512.5 134v7M510 129.5h7M513.5 126v7M510 112.5h7M513.5 109v7M510 132.5h7M513.5 129v7M510 106.5h7M513.5 103v7M511 120.5h7M514.5 117v7M511 136.5h7M514.5 133v7M511 122.5h7M514.5 119v7M511 100.5h7M514.5 97v7M512 129.5h7M515.5 126v7M512 135.5h7M515.5 132v7M512 115.5h7M515.5 112v7M512 107.5h7M515.5 104v7M513 102.5h7M516.5 99v7M513 124.5h7M516.5 121v7M513 119.5h7M516.5 116v7M513 118.5h7M516.5 115v7M514 109.5h7M517.5 106v7M514 98.5h7M517.5 95v7M514 123.5h7M517.5 120v7M514 108.5h7M517.5 105v7M515 113.5h7M518.5 110v7M515 115.5h7M518.5 112v7M515 133.5h7M518.5 130v7M515 130.5h7M518.5 127v7M516 118.5h7M519.5 115v7M516 133.5h7M519.5 130v7M516 113.5h7M519.5 110v7M516 128.5h7M519.5 125v7M517 122.5h7M520.5 119v7M517 124.5h7M520.5 121v7M517 127.5h7M520.5 124v7M518 122.5h7M521.5 119v7M518 112.5h7M521.5 109v7M518 96.5h7M521.5 93v7M518 136.5h7M521.5 133v7M519 121.5h7M522.5 118v7M519 126.5h7M522.5 123v7M519 134.5h7M522.5 131v7M519 120.5h7M522.5 117v7M520 134.5h7M523.5 131v7M520 125.5h7M523.5 122v7M520 112.5h7M523.5 109v7M520 146.5h7M523.5 143v7M521 123.5h7M524.5 120v7M521 121.5h7M524.5 118v7M521 136.5h7M524.5 133v7M521 120.5h7M524.5 117v7M522 120.5h7M525.5 117v7M522 129.5h7M525.5 126v7M522 113.5h7M525.5 110v7M522 139.5h7M525.5 136v7M523 120.5h7M526.5 117v7M523 137.5h7M526.5 134v7M523 128.5h7M526.5 125v7M524 130.5h7M527.5 127v7M524 119.5h7M527.5 116v7M524 142.5h7M527.5 139v7M524 128.5h7M527.5 125v7M525 132.5h7M528.5 129v7M525 111.5h7M528.5 108v7M525 138.5h7M528.5 135v7M525 116.5h7M528.5 113v7M526 146.5h7M529.5 143v7M526 124.5h7M529.5 121v7M526 129.5h7M529.5 126v7M527 135.5h7M530.5 132v7M527 148.5h7M530.5 145v7M527 143.5h7M530.5 140v7M527 114.5h7M530.5 111v7M528 126.5h7M531.5 123v7M528 137.5h7M531.5 134v7M528 120.5h7M531.5 117v7M528 136.5h7M531.5 133v7M529 136.5h7M532.5 133v7M529 141.5h7M532.5 138v7M529 118.5h7M532.5 115v7M529 96.5h7M532.5 93v7M530 139.5h7M533.5 136v7M530 126.5h7M533.5 123v7M530 120.5h7M533.5 117v7M530 108.5h7M533.5 105v7M531 153.5h7M534.5 150v7M531 128.5h7M534.5 125v7M531 123.5h7M534.5 120v7M531 144.5h7M534.5 141v7M532 126.5h7M535.5 123v7M532 128.5h7M535.5 125v7M532 123.5h7M535.5 120v7M532 136.5h7M535.5 133v7M533 126.5h7M536.5 123v7M533 137.5h7M536.5 134v7M533 125.5h7M536.5 122v7M533 129.5h7M536.5 126v7M534 135.5h7M537.5 132v7M534 146.5h7M537.5 143v7M534 115.5h7M537.5 112v7M534 121.5h7M537.5 118v7M535 123.5h7M538.5 120v7M535 138.5h7M538.5 135v7M535 136.5h7M538.5 133v7M535 106.5h7M538.5 103v7M536 125.5h7M539.5 122v7M536 141.5h7M539.5 138v7M536 133.5h7M539.5 130v7M537 132.5h7M540.5 129v7M537 135.5h7M540.5 132v7M537 142.5h7M540.5 139v7M537 113.5h7M540.5 110v7M538 128.5h7M541.5 125v7M538 136.5h7M541.5 133v7M538 149.5h7M541.5 146v7M538 140.5h7M541.5 137v7M539 135.5h7M542.5 132v7M539 126.5h7M542.5 123v7M539 138.5h7M542.5 135v7M539 124.5h7M542.5 121v7M540 134.5h7M543.5 131v7M540 142.5h7M543.5 139v7M540 160.5h7M543.5 157v7M540 147.5h7M543.5 144v7M541 150.5h7M544.5 147v7M541 137.5h7M544.5 134v7M541 133.5h7M544.5 130v7M541 123.5h7M544.5 120v7M542 137.5h7M545.5 134v7M542 148.5h7M545.5 145v7M542 114.5h7M545.5 111v7M542 134.5h7M545.5 131v7M543 139.5h7M546.5 136v7M543 140.5h7M546.5 137v7M543 150.5h7M546.5 147v7M543 132.5h7M546.5 129v7M544 135.5h7M547.5 132v7M544 123.5h7M547.5 120v7M544 128.5h7M547.5 125v7M544 125.5h7M547.5 122v7M545 126.5h7M548.5 123v7M545 141.5h7M548.5 138v7M545 143.5h7M548.5 140v7M545 139.5h7M548.5 136v7M546 151.5h7M549.5 148v7M546 140.5h7M549.5 137v7M546 142.5h7M549.5 139v7M546 134.5h7M549.5 131v7M547 140.5h7M550.5 137v7M547 157.5h7M550.5 154v7M547 127.5h7M550.5 124v7M548 157.5h7M551.5 154v7M548 148.5h7M551.5 145v7M548 141.5h7M551.5 138v7M548 153.5h7M551.5 150v7M549 147.5h7M552.5 144v7M549 141.5h7M552.5 138v7M549 154.5h7M552.5 151v7M549 139.5h7M552.5 136v7M550 138.5h7M553.5 135v7M550 154.5h7M553.5 151v7M550 142.5h7M553.5 139v7M550 133.5h7M553.5 130v7M551 144.5h7M554.5 141v7M551 139.5h7M554.5 136v7M551 137.5h7M554.5 134v7M551 147.5h7M554.5 144v7M552 135.5h7M555.5 132v7M552 140.5h7M555.5 137v7M552 153.5h7M555.5 150v7M552 139.5h7M555.5 136v7M553 136.5h7M556.5 133v7M553 137.5h7M556.5 134v7M553 150.5h7M556.5 147v7M553 140.5h7M556.5 137v7M554 133.5h7M557.5 130v7M554 142.5h7M557.5 139v7M554 135.5h7M557.5 132v7M554 134.5h7M557.5 131v7M555 146.5h7M558.5 143v7M555 139.5h7M558.5 136v7M555 148.5h7M558.5 145v7M555 136.5h7M558.5 133v7M556 147.5h7M559.5 144v7M556 154.5h7M559.5 151v7M557 147.5h7M560.5 144v7M557 143.5h7M560.5 140v7M557 142.5h7M560.5 139v7M557 157.5h7M560.5 154v7M558 152.5h7M561.5 149v7M558 143.5h7M561.5 140v7M558 142.5h7M561.5 139v7M558 147.5h7M561.5 144v7M559 124.5h7M562.5 121v7M559 138.5h7M562.5 135v7M559 148.5h7M562.5 145v7M559 141.5h7M562.5 138v7M560 136.5h7M563.5 133v7M560 144.5h7M563.5 141v7M560 163.5h7M563.5 160v7M560 148.5h7M563.5 145v7M561 148.5h7M564.5 145v7M561 129.5h7M564.5 126v7M561 165.5h7M564.5 162v7M561 135.5h7M564.5 132v7M562 150.5h7M565.5 147v7M562 141.5h7M565.5 138v7M562 153.5h7M565.5 150v7M562 148.5h7M565.5 145v7M563 140.5h7M566.5 137v7M563 149.5h7M566.5 146v7M563 151.5h7M566.5 148v7M564 153.5h7M567.5 150v7M564 152.5h7M567.5 149v7M564 154.5h7M567.5 151v7M564 151.5h7M567.5 148v7M565 139.5h7M568.5 136v7M565 161.5h7M568.5 158v7M565 165.5h7M568.5 162v7M565 151.5h7M568.5 148v7M566 137.5h7M569.5 134v7M566 142.5h7M569.5 139v7M566 140.5h7M569.5 137v7M566 141.5h7M569.5 138v7M567 157.5h7M570.5 154v7M567 151.5h7M570.5 148v7M567 175.5h7M570.5 172v7M568 147.5h7M571.5 144v7M568 166.5h7M571.5 163v7M568 170.5h7M571.5 167v7M568 164.5h7M571.5 161v7M569 151.5h7M572.5 148v7M569 143.5h7M572.5 140v7M569 132.5h7M572.5 129v7M569 141.5h7M572.5 138v7M570 166.5h7M573.5 163v7M570 174.5h7M573.5 171v7M570 152.5h7M573.5 149v7M570 144.5h7M573.5 141v7M571 168.5h7M574.5 165v7M571 158.5h7M574.5 155v7M571 154.5h7M574.5 151v7M572 156.5h7M575.5 153v7M572 150.5h7M575.5 147v7M572 146.5h7M575.5 143v7M572 154.5h7M575.5 151v7M573 149.5h7M576.5 146v7M573 138.5h7M576.5 135v7M573 164.5h7M576.5 161v7M574 151.5h7M577.5 148v7M574 140.5h7M577.5 137v7M574 154.5h7M577.5 151v7M574 147.5h7M577.5 144v7M575 158.5h7M578.5 155v7M575 149.5h7M578.5 146v7M575 162.5h7M578.5 159v7M575 151.5h7M578.5 148v7M576 153.5h7M579.5 150v7M576 146.5h7M579.5 143v7M577 148.5h7M580.5 145v7M577 165.5h7M580.5 162v7M577 150.5h7M580.5 147v7M577 171.5h7M580.5 168v7M578 149.5h7M581.5 146v7M578 137.5h7M581.5 134v7M578 153.5h7M581.5 150v7M578 154.5h7M581.5 151v7M579 156.5h7M582.5 153v7M579 151.5h7M582.5 148v7M579 162.5h7M582.5 159v7M579 153.5h7M582.5 150v7M580 162.5h7M583.5 159v7M580 163.5h7M583.5 160v7M580 157.5h7M583.5 154v7M580 160.5h7M583.5 157v7M581 174.5h7M584.5 171v7M581 142.5h7M584.5 139v7M581 158.5h7M584.5 155v7M582 151.5h7M585.5 148v7M582 161.5h7M585.5 158v7M582 158.5h7M585.5 155v7M582 154.5h7M585.5 151v7M583 168.5h7M586.5 165v7M583 183.5h7M586.5 180v7M583 162.5h7M586.5 159v7M583 158.5h7M586.5 155v7M584 153.5h7M587.5 150v7M584 167.5h7M587.5 164v7M584 164.5h7M587.5 161v7M584 158.5h7M587.5 155v7M585 164.5h7M588.5 161v7M585 160.5h7M588.5 157v7M585 170.5h7M588.5 167v7M586 149.5h7M589.5 146v7M586 175.5h7M589.5 172v7M586 162.5h7M589.5 159v7M586 165.5h7M589.5 162v7M587 169.5h7M590.5 166v7M587 158.5h7M590.5 155v7M587 155.5h7M590.5 152v7M587 151.5h7M590.5 148v7M588 158.5h7M591.5 155v7M588 167.5h7M591.5 164v7M588 156.5h7M591.5 153v7M588 176.5h7M591.5 173v7M589 164.5h7M592.5 161v7M589 160.5h7M592.5 157v7M589 174.5h7M592.5 171v7M590 177.5h7M593.5 174v7M590 151.5h7M593.5 148v7M590 169.5h7M593.5 166v7M590 179.5h7M593.5 176v7M591 176.5h7M594.5 173v7M591 165.5h7M594.5 162v7M591 156.5h7M594.5 153v7M591 166.5h7M594.5 163v7M592 156.5h7M595.5 153v7M592 164.5h7M595.5 161v7M592 163.5h7M595.5 160v7M592 158.5h7M595.5 155v7M593 169.5h7M596.5 166v7M593 164.5h7M596.5 161v7M593 170.5h7M596.5 167v7M593 172.5h7M596.5 169v7M594 162.5h7M597.5 159v7M594 174.5h7M597.5 171v7M594 167.5h7M597.5 164v7M594 175.5h7M597.5 172v7M595 168.5h7M598.5 165v7M595 172.5h7M598.5 169v7M595 160.5h7M598.5 157v7M595 167.5h7M598.5 164v7M596 168.5h7M599.5 165v7M596 146.5h7M599.5 143v7M596 191.5h7M599.5 188v7M597 178.5h7M600.5 175v7M597 191.5h7M600.5 188v7M597 169.5h7M600.5 166v7M597 166.5h7M600.5 163v7M598 164.5h7M601.5 161v7M598 167.5h7M601.5 164v7M598 177.5h7M601.5 174v7M598 155.5h7M601.5 152v7M599 168.5h7M602.5 165v7M599 172.5h7M602.5 169v7M599 180.5h7M602.5 177v7M599 167.5h7M602.5 164v7M600 175.5h7M603.5 172v7M600 169.5h7M603.5 166v7M601 178.5h7M604.5 175v7M601 162.5h7M604.5 159v7M601 180.5h7M604.5 177v7M601 181.5h7M604.5 178v7M602 169.5h7M605.5 166v7M602 171.5h7M605.5 168v7M602 176.5h7M605.5 173v7M603 172.5h7M606.5 169v7M603 178.5h7M606.5 175v7M603 186.5h7M606.5 183v7M603 167.5h7M606.5 164v7M604 181.5h7M607.5 178v7M604 176.5h7M607.5 173v7M604 167.5h7M607.5 164v7M604 174.5h7M607.5 171v7M605 138.5h7M608.5 135v7M605 185.5h7M608.5 182v7M605 180.5h7M608.5 177v7M605 174.5h7M608.5 171v7M606 164.5h7M609.5 161v7M606 177.5h7M609.5 174v7M606 186.5h7M609.5 183v7M606 166.5h7M609.5 163v7M607 188.5h7M610.5 185v7M607 177.5h7M610.5 174v7M607 168.5h7M610.5 165v7M607 181.5h7M610.5 178v7M608 179.5h7M611.5 176v7M608 171.5h7M611.5 168v7M608 178.5h7M611.5 175v7M608 174.5h7M611.5 171v7M609 184.5h7M612.5 181v7M609 177.5h7M612.5 174v7M609 192.5h7M612.5 189v7M609 198.5h7M612.5 195v7M610 163.5h7M613.5 160v7M610 174.5h7M613.5 171v7M610 169.5h7M613.5 166v7M610 185.5h7M613.5 182v7M611 178.5h7M614.5 175v7M611 180.5h7M614.5 177v7M611 190.5h7M614.5 187v7M611 174.5h7M614.5 171v7M612 184.5h7M615.5 181v7M612 180.5h7M615.5 177v7M612 191.5h7M615.5 188v7M612 171.5h7M615.5 168v7M613 174.5h7M616.5 171v7M613 177.5h7M616.5 174v7M613 188.5h7M616.5 185v7M613 184.5h7M616.5 181v7M614 170.5h7M617.5 167v7M614 182.5h7M617.5 179v7M614 179.5h7M617.5 176v7M614 180.5h7M617.5 177v7M615 190.5h7M618.5 187v7M615 169.5h7M618.5 166v7M615 197.5h7M618.5 194v7M615 180.5h7M618.5 177v7M616 183.5h7M619.5 180v7M616 195.5h7M619.5 192v7M616 178.5h7M619.5 175v7M617 179.5h7M620.5 176v7M617 182.5h7M620.5 179v7M617 190.5h7M620.5 187v7M617 180.5h7M620.5 177v7M618 175.5h7M621.5 172v7M618 182.5h7M621.5 179v7M618 170.5h7M621.5 167v7M618 178.5h7M621.5 175v7M619 178.5h7M622.5 175v7M619 174.5h7M622.5 171v7M619 190.5h7M622.5 187v7M620 181.5h7M623.5 178v7M620 174.5h7M623.5 171v7M620 177.5h7M623.5 174v7M621 184.5h7M624.5 181v7M621 189.5h7M624.5 186v7M621 190.5h7M624.5 187v7M622 191.5h7M625.5 188v7M622 180.5h7M625.5 177v7M623 186.5h7M626.5 183v7M623 192.5h7M626.5 189v7M623 190.5h7M626.5 187v7M623 206.5h7M626.5 203v7M624 185.5h7M627.5 182v7M624 191.5h7M627.5 188v7M624 188.5h7M627.5 185v7M624 186.5h7M627.5 183v7M625 204.5h7M628.5 201v7M625 170.5h7M628.5 167v7M625 188.5h7M628.5 185v7M626 204.5h7M629.5 201v7M626 184.5h7M629.5 181v7M626 186.5h7M629.5 183v7M626 192.5h7M629.5 189v7M627 188.5h7M630.5 185v7M627 179.5h7M630.5 176v7M627 192.5h7M630.5 189v7M627 197.5h7M630.5 194v7M628 179.5h7M631.5 176v7M628 188.5h7M631.5 185v7M628 191.5h7M631.5 188v7M628 171.5h7M631.5 168v7M629 189.5h7M632.5 186v7M629 192.5h7M632.5 189v7M629 194.5h7M632.5 191v7M630 189.5h7M633.5 186v7M630 190.5h7M633.5 187v7M630 196.5h7M633.5 193v7M630 193.5h7M633.5 190v7M631 189.5h7M634.5 186v7M631 186.5h7M634.5 183v7M631 185.5h7M634.5 182v7M632 190.5h7M635.5 187v7M632 188.5h7M635.5 185v7M632 195.5h7M635.5 192v7M632 194.5h7M635.5 191v7M633 184.5h7M636.5 181v7M633 219.5h7M636.5 216v7M633 190.5h7M636.5 187v7M633 174.5h7M636.5 171v7M634 208.5h7M637.5 205v7M634 174.5h7M637.5 171v7M634 207.5h7M637.5 204v7M634 191.5h7M637.5 188v7M635 181.5h7M638.5 178v7M635 183.5h7M638.5 180v7M635 202.5h7M638.5 199v7M636 205.5h7M639.5 202v7M636 206.5h7M639.5 203v7M636 190.5h7M639.5 187v7M636 198.5h7M639.5 195v7M637 195.5h7M640.5 192v7M637 192.5h7M640.5 189v7M637 191.5h7M640.5 188v7M638 195.5h7M641.5 192v7M638 209.5h7M641.5 206v7M638 185.5h7M641.5 182v7M638 218.5h7M641.5 215v7M639 188.5h7M642.5 185v7M639 202.5h7M642.5 199v7M639 199.5h7M642.5 196v7M640 200.5h7M643.5 197v7M640 198.5h7M643.5 195v7M640 207.5h7M643.5 204v7M641 192.5h7M644.5 189v7M641 203.5h7M644.5 200v7M641 189.5h7M644.5 186v7M641 200.5h7M644.5 197v7M642 205.5h7M645.5 202v7M642 196.5h7M645.5 193v7M642 192.5h7M645.5 189v7M642 207.5h7M645.5 204v7M643 202.5h7M646.5 199v7M643 189.5h7M646.5 186v7M643 207.5h7M646.5 204v7M644 198.5h7M647.5 195v7M644 209.5h7M647.5 206v7M644 220.5h7M647.5 217v7M644 213.5h7M647.5 210v7M645 197.5h7M648.5 194v7M645 195.5h7M648.5 192v7M645 193.5h7M648.5 190v7M645 198.5h7M648.5 195v7M646 210.5h7M649.5 207v7M646 196.5h7M649.5 193v7M646 192.5h7M649.5 189v7M646 207.5h7M649.5 204v7M647 194.5h7M650.5 191v7M647 205.5h7M650.5 202v7M647 200.5h7M650.5 197v7M647 199.5h7M650.5 196v7M648 213.5h7M651.5 210v7M648 191.5h7M651.5 188v7M648 209.5h7M651.5 206v7M648 204.5h7M651.5 201v7M649 206.5h7M652.5 203v7M649 199.5h7M652.5 196v7M649 203.5h7M652.5 200v7M650 192.5h7M653.5 189v7M650 200.5h7M653.5 197v7M650 207.5h7M653.5 204v7M650 224.5h7M653.5 221v7M651 206.5h7M654.5 203v7M651 216.5h7M654.5 213v7M651 210.5h7M654.5 207v7M652 196.5h7M655.5 193v7M652 190.5h7M655.5 187v7M652 195.5h7M655.5 192v7M653 210.5h7M656.5 207v7M653 203.5h7M656.5 200v7M653 216.5h7M656.5 213v7M653 199.5h7M656.5 196v7M654 203.5h7M657.5 200v7M654 210.5h7M657.5 207v7M654 207.5h7M657.5 204v7M654 208.5h7M657.5 205v7M655 215.5h7M658.5 212v7M655 196.5h7M658.5 193v7M655 186.5h7M658.5 183v7M656 200.5h7M659.5 197v7M656 198.5h7M659.5 195v7M656 206.5h7M659.5 203v7M656 210.5h7M659.5 207v7M657 190.5h7M660.5 187v7M657 210.5h7M660.5 207v7M657 205.5h7M660.5 202v7M657 209.5h7M660.5 206v7M658 204.5h7M661.5 201v7M658 208.5h7M661.5 205v7M658 218.5h7M661.5 215v7M659 209.5h7M662.5 206v7M659 198.5h7M662.5 195v7M659 217.5h7M662.5 214v7M659 215.5h7M662.5 212v7M660 198.5h7M663.5 195v7M660 206.5h7M663.5 203v7M660 202.5h7M663.5 199v7M660 227.5h7M663.5 224v7M661 209.5h7M664.5 206v7M661 220.5h7M664.5 217v7M661 221.5h7M664.5 218v7M661 207.5h7M664.5 204v7M662 202.5h7M665.5 199v7M662 222.5h7M665.5 219v7M662 220.5h7M665.5 217v7M662 216.5h7M665.5 213v7M663 212.5h7M666.5 209v7M663 222.5h7M666.5 219v7M663 194.5h7M666.5 191v7M663 207.5h7M666.5 204v7M664 215.5h7M667.5 212v7M664 217.5h7M667.5 214v7M664 194.5h7M667.5 191v7M664 195.5h7M667.5 192v7M665 217.5h7M668.5 214v7M665 210.5h7M668.5 207v7M665 204.5h7M668.5 201v7M665 222.5h7M668.5 219v7M666 218.5h7M669.5 215v7M666 203.5h7M669.5 200v7M666 219.5h7M669.5 216v7M667 224.5h7M670.5 221v7M667 220.5h7M670.5 217v7M667 209.5h7M670.5 206v7M667 221.5h7M670.5 218v7M668 225.5h7M671.5 222v7M668 220.5h7M671.5 217v7M668 202.5h7M671.5 199v7M668 215.5h7M671.5 212v7M669 220.5h7M672.5 217v7M669 215.5h7M672.5 212v7M669 212.5h7M672.5 209v7M670 231.5h7M673.5 228v7M670 213.5h7M673.5 210v7M670 218.5h7M673.5 215v7M670 210.5h7M673.5 207v7M671 227.5h7M674.5 224v7M671 208.5h7M674.5 205v7M671 221.5h7M674.5 218v7M671 231.5h7M674.5 228v7M672 207.5h7M675.5 204v7M672 221.5h7M675.5 218v7M672 215.5h7M675.5 212v7M672 219.5h7M675.5 216v7M673 209.5h7M676.5 206v7M673 212.5h7M676.5 209v7M674 231.5h7M677.5 228v7M674 232.5h7M677.5 229v7M674 217.5h7M677.5 214v7M674 226.5h7M677.5 223v7M675 215.5h7M678.5 212v7M675 218.5h7M678.5 215v7M675 230.5h7M678.5 227v7M676 227.5h7M679.5 224v7M676 226.5h7M679.5 223v7M676 221.5h7M679.5 218v7M677 215.5h7M680.5 212v7M677 209.5h7M680.5 206v7M677 227.5h7M680.5 224v7M677 224.5h7M680.5 221v7M678 208.5h7M681.5 205v7M678 213.5h7M681.5 210v7M678 219.5h7M681.5 216v7M678 238.5h7M681.5 235v7M679 229.5h7M682.5 226v7M679 219.5h7M682.5 216v7M679 225.5h7M682.5 222v7M679 205.5h7M682.5 202v7M680 220.5h7M683.5 217v7M680 218.5h7M683.5 215v7M680 230.5h7M683.5 227v7M681 226.5h7M684.5 223v7M681 223.5h7M684.5 220v7M681 219.5h7M684.5 216v7M682 220.5h7M685.5 217v7M682 215.5h7M685.5 212v7M682 233.5h7M685.5 230v7M682 221.5h7M685.5 218v7M683 221.5h7M686.5 218v7M683 210.5h7M686.5 207v7M683 224.5h7M686.5 221v7M683 220.5h7M686.5 217v7M684 230.5h7M687.5 227v7M684 220.5h7M687.5 217v7M684 229.5h7M687.5 226v7M685 230.5h7M688.5 227v7M685 223.5h7M688.5 220v7M685 219.5h7M688.5 216v7M685 233.5h7M688.5 230v7M686 217.5h7M689.5 214v7M686 226.5h7M689.5 223v7M686 208.5h7M689.5 205v7M686 212.5h7M689.5 209v7M687 226.5h7M690.5 223v7M687 229.5h7M690.5 226v7M687 204.5h7M690.5 201v7M687 219.5h7M690.5 216v7M688 219.5h7M691.5 216v7M688 227.5h7M691.5 224v7M688 224.5h7M691.5 221v7M688 218.5h7M691.5 215v7M689 219.5h7M692.5 216v7M689 231.5h7M692.5 228v7M689 215.5h7M692.5 212v7M689 221.5h7M692.5 218v7M690 236.5h7M693.5 233v7M690 216.5h7M693.5 213v7M690 225.5h7M693.5 222v7M690 218.5h7M693.5 215v7M691 229.5h7M694.5 226v7M691 221.5h7M694.5 218v7M691 237.5h7M694.5 234v7M692 236.5h7M695.5 233v7M692 223.5h7M695.5 220v7M692 244.5h7M695.5 241v7M692 224.5h7M695.5 221v7M693 219.5h7M696.5 216v7M693 221.5h7M696.5 218v7M693 215.5h7M696.5 212v7M693 233.5h7M696.5 230v7M694 212.5h7M697.5 209v7M694 234.5h7M697.5 231v7M694 231.5h7M697.5 228v7M695 229.5h7M698.5 226v7M695 225.5h7M698.5 222v7M695 223.5h7M698.5 220v7M696 244.5h7M699.5 241v7M696 220.5h7M699.5 217v7M696 226.5h7M699.5 223v7M696 233.5h7M699.5 230v7M697 218.5h7M700.5 215v7M697 227.5h7M700.5 224v7M697 216.5h7M700.5 213v7M697 221.5h7M700.5 218v7M698 227.5h7M701.5 224v7M698 216.5h7M701.5 213v7M698 219.5h7M701.5 216v7M698 229.5h7M701.5 226v7M699 238.5h7M702.5 235v7M699 230.5h7M702.5 227v7M699 220.5h7M702.5 217v7M699 227.5h7M702.5 224v7M700 211.5h7M703.5 208v7M700 223.5h7M703.5 220v7M700 224.5h7M703.5 221v7M700 222.5h7M703.5 219v7M701 232.5h7M704.5 229v7M701 226.5h7M704.5 223v7M701 231.5h7M704.5 228v7M701 244.5h7M704.5 241v7M702 239.5h7M705.5 236v7M702 220.5h7M705.5 217v7M702 229.5h7M705.5 226v7M702 226.5h7M705.5 223v7M703 237.5h7M706.5 234v7M703 230.5h7M706.5 227v7M703 219.5h7M706.5 216v7M703 224.5h7M706.5 221v7M704 230.5h7M707.5 227v7M704 213.5h7M707.5 210v7M704 225.5h7M707.5 222v7M704 229.5h7M707.5 226v7M705 217.5h7M708.5 214v7M705 239.5h7M708.5 236v7M705 221.5h7M708.5 218v7M705 234.5h7M708.5 231v7M706 232.5h7M709.5 229v7M706 231.5h7M709.5 228v7M706 224.5h7M709.5 221v7M707 223.5h7M710.5 220v7M707 224.5h7M710.5 221v7M707 215.5h7M710.5 212v7M707 212.5h7M710.5 209v7M708 220.5h7M711.5 217v7M708 229.5h7M711.5 226v7M708 234.5h7M711.5 231v7M709 221.5h7M712.5 218v7M709 225.5h7M712.5 222v7M709 219.5h7M712.5 216v7M709 239.5h7M712.5 236v7M710 191.5h7M713.5 188v7M710 235.5h7M713.5 232v7M710 225.5h7M713.5 222v7M710 218.5h7M713.5 215v7M711 236.5h7M714.5 233v7M711 230.5h7M714.5 227v7M711 241.5h7M714.5 238v7M712 240.5h7M715.5 237v7M712 224.5h7M715.5 221v7M712 223.5h7M715.5 220v7M712 230.5h7M715.5 227v7M713 216.5h7M716.5 213v7M713 215.5h7M716.5 212v7M713 225.5h7M716.5 222v7M713 227.5h7M716.5 224v7M714 227.5h7M717.5 224v7M714 229.5h7M717.5 226v7M714 216.5h7M717.5 213v7M715 223.5h7M718.5 220v7M499 65.5h7M502.5 62v7M472 70.5h7M475.5 67v7M463 73.5h7M466.5 70v7M492 72.5h7M495.5 69v7M521 80.5h7M524.5 77v7M537 82.5h7M540.5 79v7M539 96.5h7M542.5 93v7M413 73.5h7M416.5 70v7M412 84.5h7M415.5 81v7M417 86.5h7M420.5 83v7M438 80.5h7M441.5 77v7M437 84.5h7M440.5 81v7M464 80.5h7M467.5 77v7M473 82.5h7M476.5 79v7M486 85.5h7M489.5 82v7M385 109.5h7M388.5 106v7M393 163.5h7M396.5 160v7M374 115.5h7M377.5 112v7M348 141.5h7M351.5 138v7M331 185.5h7M334.5 182v7M542 159.5h7M545.5 156v7M540 96.5h7M543.5 93v7M542 110.5h7M545.5 107v7M543 160.5h7M546.5 157v7M585 195.5h7M588.5 192v7M569 127.5h7M572.5 124v7M636 216.5h7M639.5 213v7M654 232.5h7M657.5 229v7M688 243.5h7M691.5 240v7M706 205.5h7M709.5 202v7M709 208.5h7M712.5 205v7" stroke="#ff0000" stroke-width="1.1" fill="none"/>
<path d="M84.9 506.5V21.1H718.5" fill="none" stroke="#2a2a2a" stroke-width="1.5"/>
<path d="M718.5 20.4V506.5H84.2" fill="none" stroke="#111" stroke-width="1"/>
<text x="71.2" y="510.9" text-anchor="end" textLength="9.3" lengthAdjust="spacingAndGlyphs">0</text><text x="70.3" y="457.0" text-anchor="end" textLength="23.2" lengthAdjust="spacingAndGlyphs">0.5</text><text x="71.2" y="403.1" text-anchor="end" textLength="9.3" lengthAdjust="spacingAndGlyphs">1</text><text x="70.3" y="349.2" text-anchor="end" textLength="23.2" lengthAdjust="spacingAndGlyphs">1.5</text><text x="71.2" y="295.3" text-anchor="end" textLength="9.3" lengthAdjust="spacingAndGlyphs">2</text><text x="70.3" y="241.5" text-anchor="end" textLength="23.2" lengthAdjust="spacingAndGlyphs">2.5</text><text x="71.2" y="187.6" text-anchor="end" textLength="9.3" lengthAdjust="spacingAndGlyphs">3</text><text x="70.3" y="133.7" text-anchor="end" textLength="23.2" lengthAdjust="spacingAndGlyphs">3.5</text><text x="71.2" y="79.8" text-anchor="end" textLength="9.3" lengthAdjust="spacingAndGlyphs">4</text><text x="70.3" y="25.9" text-anchor="end" textLength="23.2" lengthAdjust="spacingAndGlyphs">4.5</text><text x="85.0" y="528.8" text-anchor="middle" textLength="9.3" lengthAdjust="spacingAndGlyphs">0</text><text x="211.6" y="528.8" text-anchor="middle" textLength="27.9" lengthAdjust="spacingAndGlyphs">500</text><text x="338.2" y="528.8" text-anchor="middle" textLength="37.2" lengthAdjust="spacingAndGlyphs">1000</text><text x="464.8" y="528.8" text-anchor="middle" textLength="37.2" lengthAdjust="spacingAndGlyphs">1500</text><text x="591.4" y="528.8" text-anchor="middle" textLength="37.2" lengthAdjust="spacingAndGlyphs">2000</text><text x="718.0" y="528.8" text-anchor="middle" textLength="37.2" lengthAdjust="spacingAndGlyphs">2500</text>
<text x="399.5" y="554.3" text-anchor="middle" textLength="102" lengthAdjust="spacingAndGlyphs">t (in minutes)</text>
<text transform="translate(16.9,264.2) rotate(-90)" text-anchor="middle" textLength="51" lengthAdjust="spacingAndGlyphs">OD600</text>
<text x="626.4" y="40.2" text-anchor="middle" textLength="22" lengthAdjust="spacingAndGlyphs">OD</text>
<path d="M671 35.5h7M674.5 32v7" stroke="#ff0000" stroke-width="1.1" fill="none"/>
</svg>
</body></html>
